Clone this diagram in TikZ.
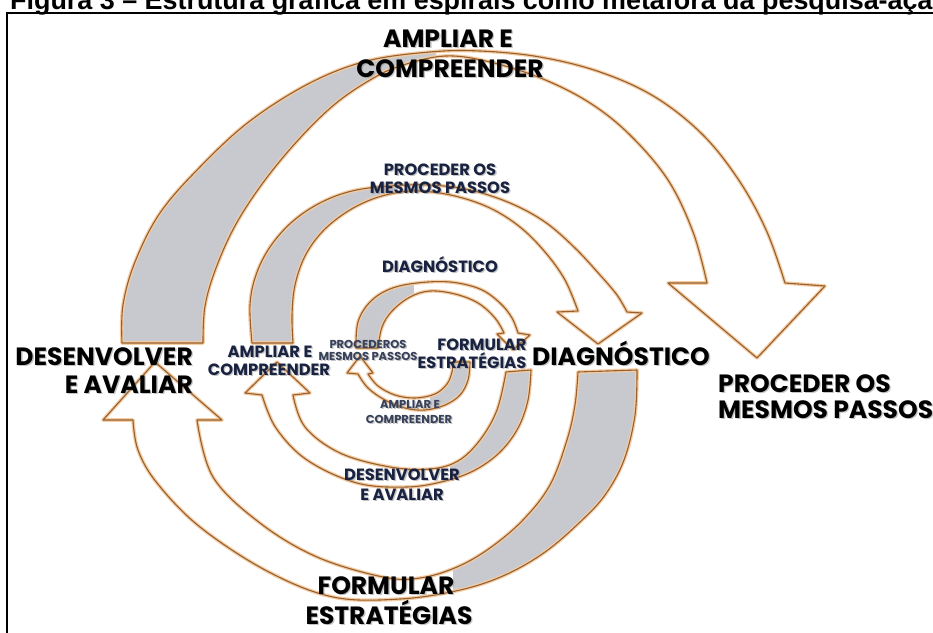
\documentclass[tikz,border=0pt]{standalone}
\usepackage{fontspec}
\newfontfamily\pop{Poppins}
\newfontfamily\lib{Liberation Sans}
\definecolor{edgebrown}{RGB}{150,95,45}
\definecolor{glowc}{RGB}{244,205,165}
\definecolor{ribgray}{RGB}{200,201,206}
\definecolor{navy}{RGB}{25,35,65}
\definecolor{smallnavy}{RGB}{55,65,90}
\tikzset{
  edgeline/.style={draw=edgebrown, line width=1.1pt, line join=round},
  glowline/.style={draw=glowc, line width=3.6pt, line join=round},
  bigtxt/.style={font=\pop\bfseries\fontsize{25}{25}\selectfont, text=black, inner sep=0pt},
  midtxt/.style={font=\pop\bfseries\fontsize{16.3}{16.3}\selectfont, text=navy, inner sep=0pt},
  smalltxt/.style={font=\pop\bfseries\fontsize{11.5}{11.5}\selectfont, text=smallnavy, inner sep=0pt},
}
\newcommand\lbl[6]{%
  \node[#5, anchor=#2, text=black!50, opacity=0.45, xshift=1.3pt, yshift=-1.6pt] (#1s) at (#3,#4) {#6};
  \node[#5, anchor=#2] (#1) at (#3,#4) {#6};}
\def\pAone{plot[smooth,tension=0.6] coordinates {(122,343) (123,305) (135,262) (160,213) (200,167) (250,121) (310,83) (367,61) (430,52) (480,51) (540,57) (600,72) (655,97) (703,135) (740,182) (767,232) (785,283)} -- (825,286) -- (757,358) -- (668,283) -- plot[smooth,tension=0.6] coordinates {(707,283) (693,232) (668,180) (630,135) (590,103) (543,79) (490,62) (445,56) (400,66) (370,80) (335,104) (300,138) (265,180) (236,224) (216,268) (205,306) (203,343)} -- cycle}
\def\pAtwo{plot[smooth,tension=0.6] coordinates {(252,343) (250,305) (256,275) (270,247) (292,222) (320,203) (352,191) (390,186) (430,185) (470,190) (510,203) (545,222) (575,248) (600,275) (617,295) (627,312)} -- (642,313) -- (598,344) -- (557,312) -- plot[smooth,tension=0.6] coordinates {(578,311) (565,280) (545,252) (520,227) (490,208) (455,196) (420,191) (395,193) (370,200) (345,213) (322,232) (305,256) (295,285) (292,315) (293,343)} -- cycle}
\def\pAthree{plot[smooth,tension=0.6] coordinates {(356,348) (358,322) (370,302) (390,289) (417,283) (450,282) (480,289) (500,303) (512,318) (518,333)} -- (530,335) -- (513,350) -- (497,334) -- plot[smooth,tension=0.6] coordinates {(504,333) (495,318) (478,303) (455,294) (430,291) (410,297) (392,311) (382,327) (378,348)} -- cycle}
\def\pBone{plot[smooth,tension=0.6] coordinates {(637,370) (635,415) (624,460) (605,495) (580,522) (545,552) (505,575) (460,590) (400,599) (333,597) (267,571) (200,527) (157,483) (138,450) (133,420)} -- (103,420) -- (155,362) -- (222,420) -- plot[smooth,tension=0.6] coordinates {(197,420) (213,477) (260,523) (317,557) (383,577) (420,578) (457,567) (490,548) (523,520) (550,485) (567,440) (575,405) (578,372)} -- cycle}
\def\pBtwo{plot[smooth,tension=0.6] coordinates {(531,370) (528,400) (518,428) (500,452) (475,470) (445,481) (407,487) (357,483) (307,460) (276,428) (262,395)} -- (245,393) -- (277,362) -- (310,393) -- plot[smooth,tension=0.6] coordinates {(293,395) (305,427) (340,453) (390,467) (430,469) (458,461) (480,440) (497,410) (506,372)} -- cycle}
\def\pBthree{plot[smooth,tension=0.6] coordinates {(470,362) (468,380) (460,395) (445,405) (425,410) (405,408) (385,400) (368,388) (358,374)} -- (347,373) -- (360,356) -- (373,373) -- plot[smooth,tension=0.6] coordinates {(368,374) (378,386) (395,395) (415,398) (435,394) (447,384) (452,372) (453,362)} -- cycle}
\newcommand\ribbon[3]{% path, gray x-limit a, b
  \fill[white] #1;
  \begin{scope}\clip #1; \fill[ribgray] (#2,-10) rectangle (#3,650);\end{scope}
  \draw[glowline] #1;
  \draw[edgeline] #1;}
\begin{document}
\begin{tikzpicture}[x=1pt,y=-1pt]
\useasboundingbox (0,0) rectangle (933,632);
\fill[white] (0,0) rectangle (933,632);
% title and frame
\node[anchor=base west, font=\lib\bfseries\fontsize{26.9}{30}\selectfont, inner sep=0pt] (title) at (10,9) {Figura 3 – Estrutura gráfica em espirais como metáfora da pesquisa-ação};
\draw[line width=2.2pt, black] (7,650) -- (7,13) -- (950,13);
% ribbons
\ribbon{\pAone}{-10}{436}
\ribbon{\pAtwo}{-10}{398}
\ribbon{\pAthree}{-10}{414}
\ribbon{\pBone}{453}{950}
\ribbon{\pBtwo}{450}{950}
\ribbon{\pBthree}{430}{950}
% large labels
\lbl{Ltop1}{base}{448}{47}{bigtxt}{AMPLIAR E}
\lbl{Ltop2}{base}{450}{77}{bigtxt}{COMPREENDER}
\lbl{Lleft1}{base east}{193}{365}{bigtxt}{DESENVOLVER}
\lbl{Lleft2}{base east}{193}{393}{bigtxt}{E AVALIAR}
\lbl{Lright}{base}{621}{365}{bigtxt}{DIAGNÓSTICO}
\lbl{Lfar1}{base west}{718}{392}{bigtxt}{PROCEDER OS}
\lbl{Lfar2}{base west}{718}{418}{bigtxt}{MESMOS PASSOS}
\lbl{Lbot1}{base}{386}{594}{bigtxt}{FORMULAR}
\lbl{Lbot2}{base}{389}{624}{bigtxt}{ESTRATÉGIAS}
% medium labels
\lbl{Mtop1}{base}{440}{175}{midtxt}{PROCEDER OS}
\lbl{Mtop2}{base}{440}{193}{midtxt}{MESMOS PASSOS}
\lbl{Mdiag}{base}{440}{272}{midtxt}{DIAGNÓSTICO}
\lbl{Mleft1}{base}{270}{357}{midtxt}{AMPLIAR E}
\lbl{Mleft2}{base}{269}{375}{midtxt}{COMPREENDER}
\lbl{Mright1}{base}{482}{350}{midtxt}{FORMULAR}
\lbl{Mright2}{base}{472}{368}{midtxt}{ESTRATÉGIAS}
\lbl{Mbot1}{base}{402}{480}{midtxt}{DESENVOLVER}
\lbl{Mbot2}{base}{402}{500}{midtxt}{E AVALIAR}
% small labels
\lbl{Sleft1}{base}{368}{348}{smalltxt}{PROCEDEROS}
\lbl{Sleft2}{base}{368}{360}{smalltxt}{MESMOS PASSOS}
\lbl{Sbot1}{base}{410}{408}{smalltxt}{AMPLIAR E}
\lbl{Sbot2}{base}{409}{423}{smalltxt}{COMPREENDER}
\end{tikzpicture}
\end{document}
